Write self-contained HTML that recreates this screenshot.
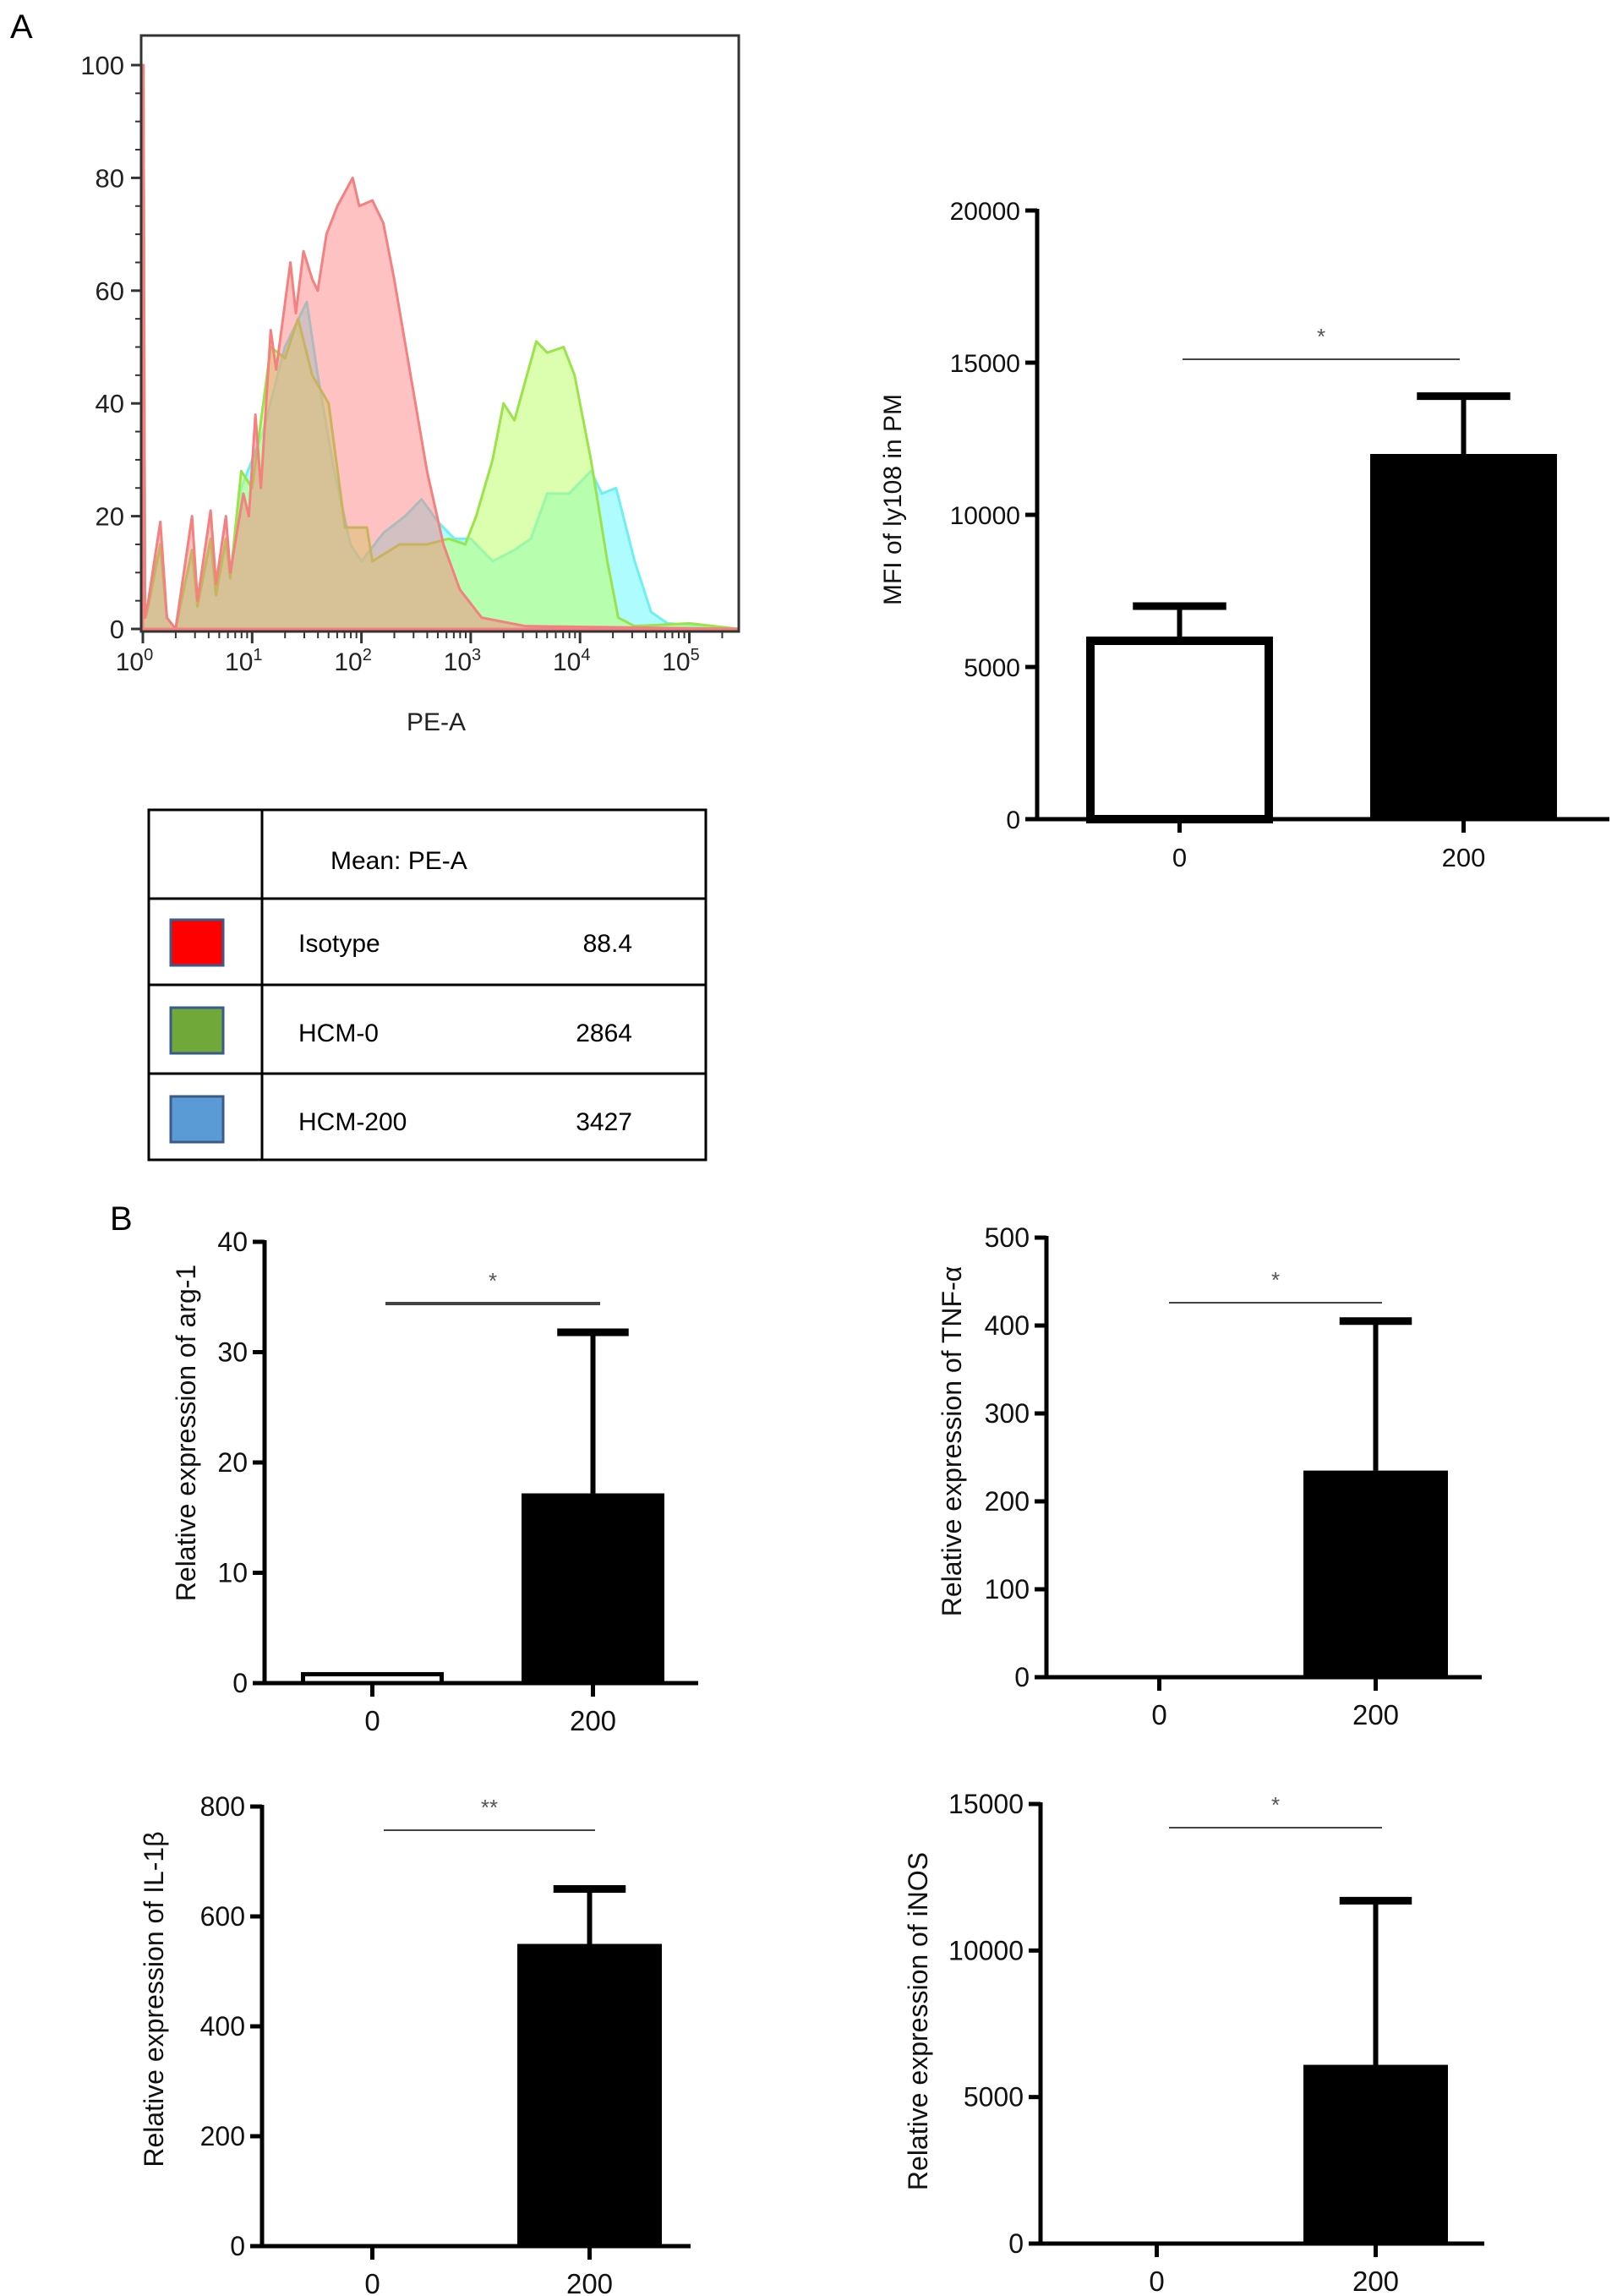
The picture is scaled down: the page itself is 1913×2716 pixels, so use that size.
<!DOCTYPE html>
<html><head><meta charset="utf-8"><style>
body{margin:0;background:#fff}
svg{display:block;font-family:"Liberation Sans",sans-serif}
</style></head><body>
<svg id="root" width="1913" height="2716" viewBox="0 0 1913 2716">
<text x="12" y="45" font-size="40">A</text>
<text x="130" y="1455" font-size="40">B</text>
<g id="hist"></g>
<g id="tbl">
 <rect x="176" y="958" width="659" height="414" fill="none" stroke="#000" stroke-width="3"/>
 <line x1="310" y1="958" x2="310" y2="1372" stroke="#000" stroke-width="3"/>
 <line x1="176" y1="1063" x2="835" y2="1063" stroke="#000" stroke-width="3"/>
 <line x1="176" y1="1165" x2="835" y2="1165" stroke="#000" stroke-width="3"/>
 <line x1="176" y1="1270" x2="835" y2="1270" stroke="#000" stroke-width="3"/>
 <text x="391" y="1028" font-size="30">Mean: PE-A</text>
 <rect x="202" y="1088" width="62" height="54" fill="#f00" stroke="#3a5a8a" stroke-width="3"/>
 <rect x="202" y="1192" width="62" height="54" fill="#70a83a" stroke="#3a5a8a" stroke-width="3"/>
 <rect x="202" y="1297" width="62" height="54" fill="#5b9bd5" stroke="#3a5a8a" stroke-width="3"/>
 <text x="353" y="1126" font-size="30">Isotype</text>
 <text x="748" y="1126" font-size="30" text-anchor="end">88.4</text>
 <text x="353" y="1232" font-size="30">HCM-0</text>
 <text x="748" y="1232" font-size="30" text-anchor="end">2864</text>
 <text x="353" y="1337" font-size="30">HCM-200</text>
 <text x="748" y="1337" font-size="30" text-anchor="end">3427</text>
</g>
</svg>
<script>
const NS="http://www.w3.org/2000/svg";
const root=document.getElementById('root');
function mk(tag,attrs,parent){const e=document.createElementNS(NS,tag);for(const k in attrs)e.setAttribute(k,attrs[k]);(parent||root).appendChild(e);return e;}

// ---- Histogram data (x = log10 PE-A, y = count) ----
const redX=[0,0.005,0.02,0.05,0.16,0.22,0.3,0.45,0.5,0.62,0.67,0.76,0.8,0.92,0.97,1.03,1.08,1.17,1.22,1.35,1.4,1.47,1.55,1.6,1.68,1.78,1.92,1.98,2.1,2.2,2.3,2.45,2.6,2.75,2.9,3.1,3.5,5.45];
const redY=[0,100,2,5,19,2,0,20,5,21,8,20,10,24,20,38,25,53,46,65,56,67,62,60,70,75,80,75,76,72,62,45,28,15,7,2,0.5,0];
const greenX=[0,0.005,0.02,0.05,0.16,0.22,0.3,0.45,0.5,0.62,0.67,0.76,0.8,0.9,1.0,1.17,1.3,1.42,1.55,1.7,1.85,2.05,2.1,2.35,2.6,2.8,2.95,3.05,3.2,3.3,3.4,3.6,3.7,3.85,3.95,4.1,4.25,4.35,4.5,5.0,5.45];
const greenY=[0,100,2,4,15,2,0,14,4,16,6,16,9,28,25,50,48,55,45,40,18,18,12,15,15,16,15,20,30,40,37,51,49,50,45,30,12,2,0.5,1,0];
const cyanX=[0,0.005,0.02,0.05,0.16,0.22,0.3,0.45,0.5,0.62,0.67,0.76,0.8,0.9,1.1,1.3,1.5,1.6,1.75,1.9,2.0,2.2,2.4,2.55,2.7,2.85,3.0,3.2,3.4,3.55,3.7,3.9,4.1,4.2,4.33,4.5,4.65,4.8,5.45];
const cyanY=[0,100,2,4,15,2,0,14,4,16,6,16,9,25,35,50,58,45,28,15,12,17,20,23,19,16,16,12,14,16,24,24,28,24,25,12,3,1,0];
const yTicksH=[0,20,40,60,80,100];
const decades=[0,1,2,3,4,5];

const H={l:167,t:42,r:874,b:747,x0:169,dx:129.3,y0:744,ky:6.67};
const hx=v=>H.x0+v*H.dx, hy=v=>H.y0-v*H.ky;
const hist=document.getElementById('hist');
function area(xs,ys,fill,stroke,name){
  let d=`M${hx(xs[0])},${hy(0)}`;xs.forEach((x,i)=>d+=` L${hx(x)},${hy(ys[i])}`);d+=` L${hx(xs[xs.length-1])},${hy(0)}Z`;
  const p=mk('path',{d,fill,stroke,'stroke-width':3,'stroke-linejoin':'round'},hist);
  
  
}
area(cyanX,cyanY,'rgba(110,250,255,0.55)','#6ef0f0','hcm200-curve');
area(greenX,greenY,'rgba(190,255,110,0.55)','#9be34a','hcm0-curve');
area(redX,redY,'rgba(255,120,120,0.45)','#f48080','isotype-curve');
const fr=mk('rect',{x:H.l,y:H.t,width:H.r-H.l,height:H.b-H.t,fill:'none',stroke:'#333','stroke-width':3},hist);


yTicksH.forEach(v=>{
  mk('line',{x1:H.l-12,x2:H.l,y1:hy(v),y2:hy(v),stroke:'#333','stroke-width':3},hist);
  const t=mk('text',{x:H.l-20,y:hy(v)+11,'font-size':31,'text-anchor':'end',fill:'#222'},hist);t.textContent=v;
  
  
});
for(let v=0;v<=100;v+=5){mk('line',{x1:H.l-7,x2:H.l,y1:hy(v),y2:hy(v),stroke:'#333','stroke-width':2},hist);}
decades.forEach(d=>{
  mk('line',{x1:hx(d),x2:hx(d),y1:H.b,y2:H.b+14,stroke:'#333','stroke-width':3},hist);
  for(let m=2;m<10&&d<5.4;m++){const xv=d+Math.log10(m);if(xv<5.45)mk('line',{x1:hx(xv),x2:hx(xv),y1:H.b,y2:H.b+8,stroke:'#333','stroke-width':2},hist);}
  const t=mk('text',{x:hx(d)-10,y:H.b+46,'font-size':30,'text-anchor':'middle',fill:'#222'},hist);
  t.innerHTML=`10<tspan dy="-12" font-size="20">${d}</tspan>`;
  
  
});
const xl=mk('text',{x:516,y:864,'font-size':30,'text-anchor':'middle',fill:'#222'},hist);xl.textContent='PE-A';



// ---- Bar chart data ----
const barCats=['0','200'];
const mfiVals=[6000,12000], mfiErr=[7000,13900], mfiTicks=[0,5000,10000,15000,20000];
const argVals=[1.0,17.2], argErr=[null,31.8], argTicks=[0,10,20,30,40];
const tnfVals=[0,235], tnfErr=[null,405], tnfTicks=[0,100,200,300,400,500];
const ilVals=[0,550], ilErr=[null,650], ilTicks=[0,200,400,600,800];
const inosVals=[0,6100], inosErr=[null,11700], inosTicks=[0,5000,10000,15000];

function barChart(o){
  const g=mk('g',{});
  
  
  const max=o.ticks[o.ticks.length-1];
  const y=v=>o.y0-(v/max)*(o.y0-o.ytop);
  const fs=o.fs||32;
  o.ticks.forEach(v=>{
    mk('line',{x1:o.ax-14,x2:o.ax,y1:y(v),y2:y(v),stroke:'#000','stroke-width':5},g);
    const t=mk('text',{x:o.ax-20,y:y(v)+11,'font-size':fs,'text-anchor':'end',fill:'#111'},g);t.textContent=v;
    
    
  });
  o.vals.forEach((v,i)=>{
    const [bl,br]=o.bars[i], cx=(bl+br)/2;
    if(o.err[i]!=null){
      mk('line',{x1:cx,x2:cx,y1:y(o.err[i]),y2:y(v),stroke:'#000','stroke-width':6},g);
      mk('line',{x1:cx-(br-bl)*0.25,x2:cx+(br-bl)*0.25,y1:y(o.err[i]),y2:y(o.err[i]),stroke:'#000','stroke-width':9},g);
    }
    if(v>0){
      const filled=i==1;
      const sw=filled?0:(y(0)-y(v)<20?5:10);
      const r=mk('rect',{x:bl+sw/2,y:y(v)+sw/2,width:br-bl-sw,height:Math.max(0,y(0)-y(v)-sw/2),fill:filled?'#000':'#fff',stroke:'#000','stroke-width':sw},g);
      
      
    }
    mk('line',{x1:cx,x2:cx,y1:o.y0,y2:o.y0+16,stroke:'#000','stroke-width':5},g);
    const t=mk('text',{x:cx,y:o.y0+56,'font-size':fs+1,'text-anchor':'middle',fill:'#111'},g);t.textContent=barCats[i];
    
    
  });
  mk('line',{x1:o.ax,x2:o.ax,y1:o.ytop-2,y2:o.y0+2,stroke:'#000','stroke-width':5},g);
  mk('line',{x1:o.ax-14,x2:o.xend,y1:o.y0,y2:o.y0,stroke:'#000','stroke-width':5},g);
  mk('line',{x1:o.sig[0],x2:o.sig[1],y1:o.sig[2],y2:o.sig[2],stroke:'#444','stroke-width':o.sigw||2},g);
  const s=mk('text',{x:(o.sig[0]+o.sig[1])/2,y:o.sig[2]-18,'font-size':26,'text-anchor':'middle',fill:'#555'},g);s.textContent=o.star;
  
  
  const yl=mk('text',{x:0,y:0,'font-size':fs,'text-anchor':'middle',fill:'#111',transform:`translate(${o.lx},${o.ly}) rotate(-90)`},g);yl.textContent=o.label;
  
  
}
barChart({name:'mfi-bar-chart',ax:1227,ytop:249,y0:969,xend:1904,ticks:mfiTicks,vals:mfiVals,err:mfiErr,bars:[[1285,1506],[1621,1842]],sig:[1399,1727,425],star:'*',label:'MFI of ly108 in PM',lx:1066,ly:591,fs:30});
barChart({name:'arg1-bar-chart',ax:313,ytop:1469,y0:1991,xend:826,ticks:argTicks,vals:argVals,err:argErr,bars:[[356,525],[617,786]],sig:[456,710,1542],star:'*',label:'Relative expression of arg-1',lx:231,ly:1695,sigw:4});
barChart({name:'tnf-bar-chart',ax:1238,ytop:1464,y0:1984,xend:1753,ticks:tnfTicks,vals:tnfVals,err:tnfErr,bars:[[1286,1457],[1542,1713]],sig:[1383,1635,1541],star:'*',label:'Relative expression of TNF-α',lx:1137,ly:1705});
barChart({name:'il1b-bar-chart',ax:310,ytop:2137,y0:2657,xend:817,ticks:ilTicks,vals:ilVals,err:ilErr,bars:[[355,526],[612,783]],sig:[454,704,2165],star:'**',label:'Relative expression of IL-1β',lx:193,ly:2365});
barChart({name:'inos-bar-chart',ax:1231,ytop:2134,y0:2654,xend:1756,ticks:inosTicks,vals:inosVals,err:inosErr,bars:[[1283,1454],[1542,1713]],sig:[1383,1635,2162],star:'*',label:'Relative expression of iNOS',lx:1097,ly:2391});
</script>
</body></html>
